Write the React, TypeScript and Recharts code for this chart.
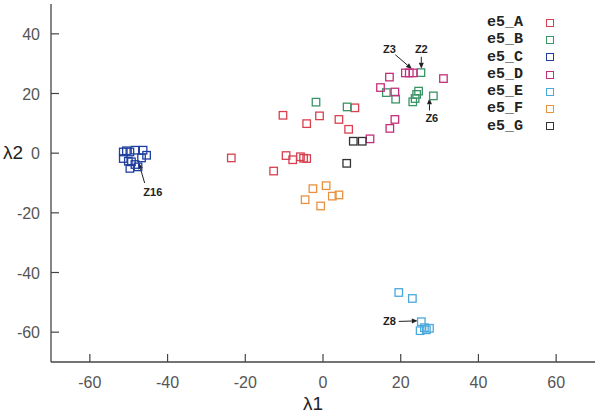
import React from 'react'
import {
  ScatterChart,
  Scatter,
  XAxis,
  YAxis,
  Legend,
  ReferenceLine,
  ReferenceDot,
} from 'recharts'

// points, [λ1, λ2]
const groupA = [
  [8.2, 15.2], [-10.3, 12.7], [-0.9, 12.5], [-4.2, 9.9], [4.1, 11.3], [6.6, 8.0],
  [-23.6, -1.6], [-9.5, -0.8], [-7.8, -2.2], [-5.8, -1.2], [-5.0, -1.7], [-4.2, -1.8],
  [-12.7, -6.0],
]
const groupB = [
  [-1.8, 17.1], [6.2, 15.5], [16.3, 20.3], [18.7, 18.1], [24.6, 20.8], [24.1, 19.7],
  [23.7, 18.3], [23.1, 17.2], [28.4, 19.2], [25.2, 27.0],
]
const groupC = [
  [-51.4, 0.4], [-50.6, 0.8], [-49.7, 0.4], [-48.4, 1.0], [-46.3, 1.0], [-45.4, -0.7],
  [-46.7, -1.6], [-51.4, -1.8], [-50.1, -2.7], [-49.3, -2.9], [-48.4, -3.8], [-47.6, -4.6],
  [-49.7, -5.1],
]
const groupD = [
  [21.2, 26.9], [22.2, 26.9], [23.2, 26.9], [31.0, 25.0], [17.1, 25.5], [14.8, 22.0],
  [18.5, 20.5], [18.5, 11.3], [17.2, 8.3], [12.1, 4.8],
]
const groupE = [
  [19.5, -46.7], [23.0, -48.7], [25.3, -56.5], [25.0, -59.5], [26.1, -58.5], [27.4, -58.7],
  [26.6, -59.2],
]
const groupF = [
  [0.8, -10.9], [-2.6, -11.9], [-4.6, -15.6], [-0.6, -17.7], [2.4, -14.4], [4.1, -14.0],
]
const groupG = [
  [7.8, 4.0], [10.1, 4.0], [6.1, -3.4],
]

const xTicks = [-60, -40, -20, 0, 20, 40, 60]
const yTicks = [-60, -40, -20, 0, 20, 40]

// label position, arrow tail, arrow head
const notes = [
  { text: 'Z3', lx: 17.1, ly: 34.8, x1: 18.6, y1: 33.0, x2: 22.9, y2: 28.2 },
  { text: 'Z2', lx: 25.3, ly: 34.8, x1: 25.3, y1: 32.3, x2: 25.3, y2: 28.3 },
  { text: 'Z6', lx: 28.0, ly: 11.7, x1: 27.4, y1: 14.3, x2: 27.4, y2: 18.4 },
  { text: 'Z16', lx: -43.8, ly: -12.9, x1: -45.9, y1: -10.0, x2: -47.4, y2: -3.3 },
  { text: 'Z8', lx: 17.1, ly: -56.4, x1: 19.5, y1: -56.4, x2: 24.4, y2: -56.2 },
]

const series = [
  { name: 'e5_A', color: '#d8404f', points: groupA },
  { name: 'e5_B', color: '#3a9466', points: groupB },
  { name: 'e5_C', color: '#1f3f9f', points: groupC },
  { name: 'e5_D', color: '#c42f7c', points: groupD },
  { name: 'e5_E', color: '#4aa8dc', points: groupE },
  { name: 'e5_F', color: '#e8913e', points: groupF },
  { name: 'e5_G', color: '#333333', points: groupG },
]

const axisColor = '#444'
const tickFont = { fontFamily: 'Liberation Sans, Arial, sans-serif', fontSize: 16, fill: '#555' }

const square = (color: string) => (props: any) => (
  <rect
    x={props.cx - 3.75}
    y={props.cy - 3.75}
    width={7.5}
    height={7.5}
    fill="none"
    stroke={color}
    strokeWidth={1.3}
  />
)

const BottomTick = ({ x, y, payload }: any) => (
  <g>
    <line x1={x} y1={y} x2={x} y2={y - 8} stroke={axisColor} strokeWidth={1.2} />
    <text x={x} y={y + 26} textAnchor="middle" {...tickFont}>{payload.value}</text>
  </g>
)
const LeftTick = ({ x, y, payload }: any) => (
  <g>
    <line x1={x} y1={y} x2={x + 8} y2={y} stroke={axisColor} strokeWidth={1.2} />
    <text x={x - 11} y={y + 6} textAnchor="end" {...tickFont}>{payload.value}</text>
  </g>
)
const TopTick = ({ x, y }: any) => (
  <line x1={x} y1={y} x2={x} y2={y + 8} stroke={axisColor} strokeWidth={1.2} />
)
const RightTick = ({ x, y }: any) => (
  <line x1={x} y1={y} x2={x - 8} y2={y} stroke={axisColor} strokeWidth={1.2} />
)

const Arrow = (props: any) => {
  const { x1, y1, x2, y2 } = props
  const a = Math.atan2(y2 - y1, x2 - x1)
  const L = 6
  const W = 2.5
  const bx = x2 - L * Math.cos(a)
  const by = y2 - L * Math.sin(a)
  const px = -Math.sin(a) * W
  const py = Math.cos(a) * W
  return (
    <g>
      <line x1={x1} y1={y1} x2={bx} y2={by} stroke="#222" strokeWidth={1} />
      <polygon points={`${x2},${y2} ${bx + px},${by + py} ${bx - px},${by - py}`} fill="#222" />
    </g>
  )
}

const noteText = (text: string) => (props: any) => (
  <text
    x={props.cx}
    y={props.cy + 4}
    textAnchor="middle"
    fontFamily="Liberation Sans, Arial, sans-serif"
    fontWeight="bold"
    fontSize={11}
    fill="#222"
  >
    {text}
  </text>
)

const LegendBox = () => (
  <div style={{ fontFamily: 'Liberation Mono, Courier New, monospace', fontWeight: 'bold', fontSize: 15, color: '#222' }}>
    {series.map((s) => (
      <div key={s.name} style={{ height: 17.3, lineHeight: '17.3px', display: 'flex', alignItems: 'center' }}>
        <span style={{ width: 59 }}>{s.name}</span>
        <span style={{ width: 6, height: 6, border: `1.4px solid ${s.color}`, display: 'inline-block' }} />
      </div>
    ))}
  </div>
)

export default function App() {
  return (
    <div style={{ position: 'absolute', left: 0, top: 0, background: '#fff' }}>
      <ScatterChart width={600} height={416} margin={{ top: 4, right: 5, left: 0, bottom: 0 }}>
        <XAxis
          type="number"
          dataKey="x"
          domain={[-70, 70]}
          ticks={xTicks}
          allowDataOverflow
          height={54}
          tickSize={0}
          tickMargin={0}
          tick={<BottomTick />}
          axisLine={{ stroke: axisColor, strokeWidth: 1.3 }}
          label={{
            content: () => (
              <text x={313} y={410} textAnchor="middle" fontFamily="Liberation Sans, Arial, sans-serif" fontSize={19} fill="#222">
                λ1
              </text>
            ),
          }}
        />
        <XAxis
          xAxisId="t"
          orientation="top"
          type="number"
          domain={[-70, 70]}
          ticks={xTicks}
          allowDataOverflow
          height={0}
          tickSize={0}
          tickMargin={0}
          tick={<TopTick />}
          axisLine={{ stroke: axisColor, strokeWidth: 1.3 }}
        />
        <YAxis
          type="number"
          dataKey="y"
          domain={[-70, 50]}
          ticks={yTicks}
          allowDataOverflow
          width={51}
          tickSize={0}
          tickMargin={0}
          tick={<LeftTick />}
          axisLine={{ stroke: axisColor, strokeWidth: 1.3 }}
          label={{
            content: () => (
              <text x={13} y={159} textAnchor="middle" fontFamily="Liberation Sans, Arial, sans-serif" fontSize={19} fill="#222">
                λ2
              </text>
            ),
          }}
        />
        <YAxis
          yAxisId="r"
          orientation="right"
          type="number"
          domain={[-70, 50]}
          ticks={yTicks}
          allowDataOverflow
          width={0}
          tickSize={0}
          tickMargin={0}
          tick={<RightTick />}
          axisLine={{ stroke: axisColor, strokeWidth: 1.3 }}
        />
        {series.map((s) => (
          <Scatter
            key={s.name}
            name={s.name}
            data={s.points.map(([x, y]) => ({ x, y }))}
            shape={square(s.color)}
            isAnimationActive={false}
          />
        ))}
        {notes.map((n) => (
          <ReferenceLine
            key={n.text + 'line'}
            segment={[{ x: n.x1, y: n.y1 }, { x: n.x2, y: n.y2 }]}
            shape={Arrow}
          />
        ))}
        {notes.map((n) => (
          <ReferenceDot key={n.text} x={n.lx} y={n.ly} r={0} shape={noteText(n.text)} />
        ))}
        <Legend
          layout="vertical"
          align="center"
          verticalAlign="middle"
          content={<LegendBox />}
          wrapperStyle={{ top: 14, left: 487, width: 110 }}
        />
      </ScatterChart>
    </div>
  )
}
